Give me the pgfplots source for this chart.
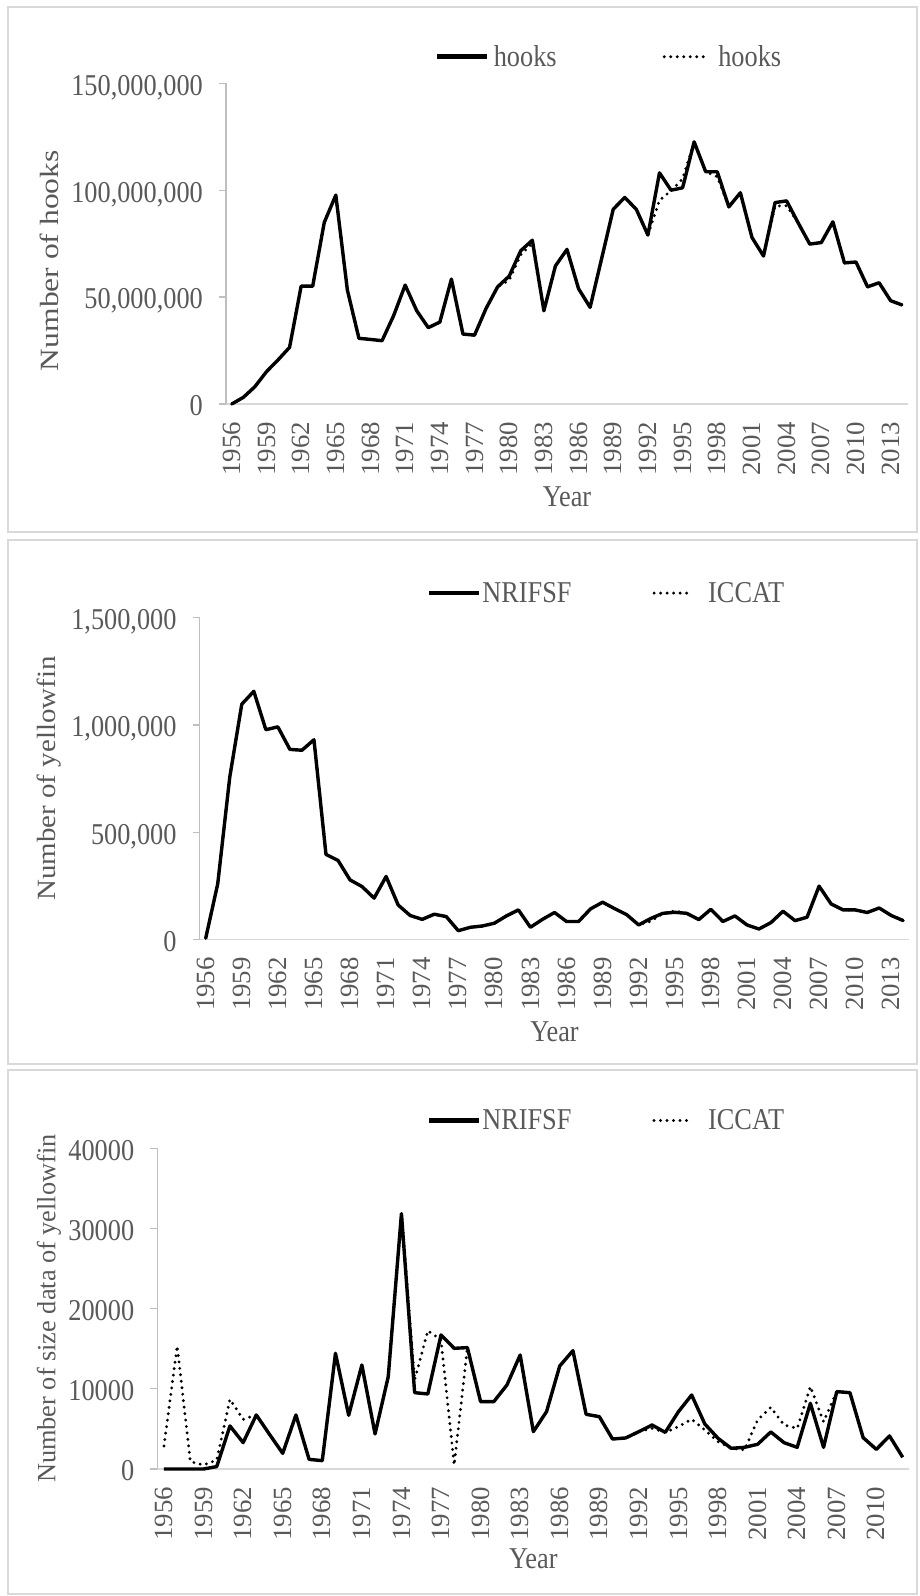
\documentclass[border=0pt]{standalone}
\usepackage{fontspec}
\setmainfont{Liberation Serif}
\usepackage{graphicx}
\usepackage{pgfplots}
\usepackage{pgfplotstable}
\pgfplotsset{compat=1.18}
\definecolor{txt}{HTML}{595959}
\definecolor{axx}{HTML}{D9D9D9}
\definecolor{axy}{HTML}{BFBFBF}
\definecolor{frm}{HTML}{D9D9D9}
\newcommand\fs{\fontsize{26.3bp}{31bp}\selectfont}
\newcommand\vs[1]{\scalebox{1}[1.15]{#1}}
\newcommand\hs[1]{\scalebox{1.02}[1]{#1}}

\pgfplotstableread{
year hooksA hooksB
1956 0 0
1957 3100000 3100000
1958 8100000 8100000
1959 15100000 15100000
1960 20600000 20600000
1961 26500000 26500000
1962 55100000 55100000
1963 55100000 55100000
1964 84900000 84900000
1965 97700000 97700000
1966 53300000 53300000
1967 30700000 30700000
1968 30200000 30200000
1969 29600000 29600000
1970 41300000 41300000
1971 55600000 55600000
1972 43600000 43600000
1973 35700000 35700000
1974 38300000 38300000
1975 58400000 58400000
1976 32700000 32700000
1977 32200000 32200000
1978 44700000 44700000
1979 54800000 54800000
1980 59800000 57900000
1981 71700000 69800000
1982 76600000 75200000
1983 43600000 43600000
1984 64600000 64600000
1985 72300000 72300000
1986 53900000 53900000
1987 45200000 45200000
1988 68100000 68100000
1989 91100000 91100000
1990 96600000 96600000
1991 91000000 91000000
1992 79000000 79000000
1993 108100000 95300000
1994 100000000 99700000
1995 101100000 105300000
1996 122600000 122600000
1997 108600000 108600000
1998 108600000 106300000
1999 92200000 92200000
2000 98800000 98800000
2001 77900000 77900000
2002 69200000 69200000
2003 94200000 92600000
2004 95000000 92700000
2005 84700000 84700000
2006 74800000 74800000
2007 75500000 75500000
2008 85200000 85200000
2009 66000000 66000000
2010 66400000 66400000
2011 54800000 54800000
2012 56700000 56700000
2013 48300000 48300000
2014 46300000 46300000
}\hookstable

\pgfplotstableread{
year nrifsf iccat
1956 5000 5000
1957 259000 259000
1958 757000 757000
1959 1097000 1097000
1960 1157000 1157000
1961 978000 978000
1962 991000 991000
1963 886000 886000
1964 882000 882000
1965 931000 931000
1966 396000 396000
1967 368000 368000
1968 277000 277000
1969 246000 246000
1970 192000 192000
1971 293000 293000
1972 160000 160000
1973 111000 111000
1974 93000 93000
1975 117000 117000
1976 106000 106000
1977 40000 40000
1978 56000 56000
1979 62000 62000
1980 75000 75000
1981 109000 109000
1982 137000 137000
1983 56000 56000
1984 93000 93000
1985 125000 125000
1986 83000 83000
1987 83000 83000
1988 142000 142000
1989 173000 173000
1990 143000 143000
1991 115000 115000
1992 67000 67000
1993 97000 84000
1994 121000 121000
1995 126000 132000
1996 121000 121000
1997 92000 92000
1998 140000 140000
1999 83000 83000
2000 109000 109000
2001 67000 67000
2002 48000 48000
2003 78000 78000
2004 131000 131000
2005 87000 87000
2006 103000 103000
2007 248000 248000
2008 165000 165000
2009 137000 137000
2010 137000 137000
2011 125000 125000
2012 146000 146000
2013 111000 111000
2014 87000 87000
}\fishtable

\pgfplotstableread{
year nrifsf iccat
1956 0 2870
1957 0 15350
1958 0 920
1959 0 500
1960 300 1120
1961 5370 8690
1962 3290 6200
1963 6740 6740
1964 4320 4320
1965 1950 1950
1966 6740 6740
1967 1200 1200
1968 1040 1040
1969 14430 14430
1970 6700 6700
1971 12970 12970
1972 4370 4370
1973 11520 11520
1974 31850 31850
1975 9520 11100
1976 9360 17250
1977 16720 16100
1978 15050 500
1979 15140 15140
1980 8400 8400
1981 8400 8400
1982 10480 10480
1983 14220 14220
1984 4660 4660
1985 7150 7150
1986 12850 12850
1987 14760 14760
1988 6820 6820
1989 6530 6530
1990 3740 3740
1991 3870 3870
1992 4660 4660
1993 5490 5070
1994 4570 4570
1995 7150 5280
1996 9230 6200
1997 5610 4870
1998 3830 3410
1999 2580 2580
2000 2700 2370
2001 3080 6110
2002 4620 7690
2003 3290 5490
2004 2700 5070
2005 8190 10270
2006 2700 5900
2007 9650 9650
2008 9520 9520
2009 3910 3910
2010 2450 2450
2011 4120 4120
2012 1460 1460
}\sizetable

\pgfplotsset{
  mystyle/.style={
    scale only axis,
    axis lines*=left,
    x axis line style={draw=axx, line width=1.2bp},
    y axis line style={draw=axy, line width=1.2bp},
    tick align=inside,
    major tick length=7bp,
    ytick style={draw=axy, line width=1.2bp, xshift=-7bp},
    xtick style={draw=none},
    scaled ticks=false,
    /pgf/number format/assume math mode=true,
    /pgf/number format/1000 sep={},
    tick label style={font=\fs, text=txt},
    xticklabel={\hs{\pgfmathprintnumber{\tick}}},
    yticklabel style={anchor=base east, inner sep=0pt, xshift=-23bp, yshift=-11.9bp},
    xticklabel style={yshift=-17.7bp, rotate=90, anchor=east, inner sep=0pt},
    label style={font=\fs, text=txt},
    xlabel={\vs{Year}},
    clip=false,
    ymin=0,
    legend columns=2,
    legend style={draw=none, fill=none, font=\fs, text=txt, anchor=west,
      inner sep=0pt, nodes={inner sep=0pt}},
  },
  solidser/.style={black, line width=3.4bp, line join=round,
    legend image code/.code={\draw[black, line width=4.6bp] (0bp,0bp) -- (50bp,0bp);}},
  dotser/.style={black, line width=3.2bp, line cap=round, line join=round, dash pattern=on 0bp off 6.5bp,
    legend image code/.code={\draw[black, line width=3.2bp, line cap=round, dash pattern=on 0bp off 6.5bp] (1.5bp,0bp) -- (45bp,0bp);}},
  dotsershort/.style={dotser,
    legend image code/.code={\draw[black, line width=3.2bp, line cap=round, dash pattern=on 0bp off 6.5bp] (1.5bp,0bp) -- (40bp,0bp);}},
}

\begin{document}
\begin{tikzpicture}
\useasboundingbox (0,0) rectangle (920bp,1596bp);
\draw[frm, line width=1.2bp] (8bp,1589bp) rectangle (917bp,1064bp);
\draw[frm, line width=1.2bp] (8bp,1056bp) rectangle (917bp,532bp);
\draw[frm, line width=1.2bp] (8bp,526bp) rectangle (917bp,2bp);

% Panel 1
\begin{axis}[mystyle,
  at={(226bp,1192bp)}, anchor=south west,
  width=682bp, height=320.7bp,
  xmin=1955.5, xmax=2014.5, ymax=150000000,
  xtick={1956,1959,...,2013},
  ytick={0,50000000,100000000,150000000},
  yticklabels={\vs{0},{\vs{50,000,000}},{\vs{100,000,000}},{\vs{150,000,000}}},
  ylabel={\scalebox{1.2}[1]{Number of hooks}},
  ylabel style={at={([xshift=-177bp,yshift=-17bp]rel axis cs:0,0.5)}, anchor=center},
  xlabel style={at={([yshift=-102.7bp]rel axis cs:0.5,0)}, anchor=base},
  legend style={at={(0.305,1.083)}, /tikz/every even column/.append style={column sep=106bp}},
]
\addplot[solidser] table[x=year, y=hooksA] {\hookstable};
\addlegendentry{\hspace{5bp}\vs{hooks}}
\addplot[dotser] table[x=year, y=hooksB] {\hookstable};
\addlegendentry{\hspace{9bp}\vs{hooks}}
\end{axis}

% Panel 2
\begin{axis}[mystyle,
  at={(199.7bp,656.7bp)}, anchor=south west,
  width=709.6bp, height=321.5bp,
  xmin=1955.5, xmax=2014.5, ymax=1500000,
  xtick={1956,1959,...,2013},
  ytick={0,500000,1000000,1500000},
  yticklabels={\vs{0},{\vs{500,000}},{\vs{1,000,000}},{\vs{1,500,000}}},
  ylabel={\scalebox{1.1}[1]{Number of yellowfin}},
  ylabel style={at={([xshift=-150.7bp]rel axis cs:0,0.5)}, anchor=center},
  xlabel style={at={([yshift=-102.7bp]rel axis cs:0.5,0)}, anchor=base},
  legend style={at={(0.3197,1.077)}, /tikz/every even column/.append style={column sep=81bp}},
]
\addplot[solidser] table[x=year, y=nrifsf] {\fishtable};
\addlegendentry{\hspace{1bp}\vs{NRIFSF}}
\addplot[dotsershort] table[x=year, y=iccat] {\fishtable};
\addlegendentry{\hspace{14bp}\vs{ICCAT}}
\end{axis}

% Panel 3
\begin{axis}[mystyle,
  at={(157.4bp,127bp)}, anchor=south west,
  width=751.9bp, height=320.7bp,
  xmin=1955.5, xmax=2012.5, ymax=40000,
  xtick={1956,1959,...,2010},
  ytick={0,10000,20000,30000,40000},
  yticklabels={\vs{0},\vs{10000},\vs{20000},\vs{30000},\vs{40000}},
  ylabel={Number of size data of yellowfin},
  ylabel style={at={([xshift=-108.4bp]rel axis cs:0,0.5)}, anchor=center},
  xlabel style={at={([yshift=-99.7bp]rel axis cs:0.5,0)}, anchor=base},
  legend style={at={(0.3579,1.0867)}, /tikz/every even column/.append style={column sep=81bp}},
]
\addplot[solidser] table[x=year, y=nrifsf] {\sizetable};
\addlegendentry{\hspace{1bp}\vs{NRIFSF}}
\addplot[dotsershort] table[x=year, y=iccat] {\sizetable};
\addlegendentry{\hspace{14bp}\vs{ICCAT}}
\end{axis}
\end{tikzpicture}
\end{document}
